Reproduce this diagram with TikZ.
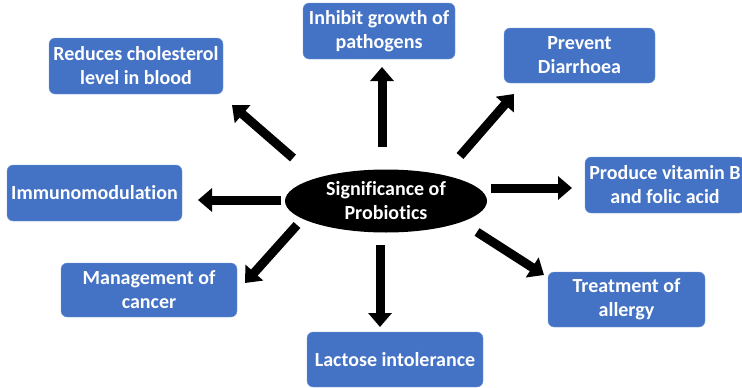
\documentclass[tikz,border=0pt]{standalone}
\usepackage{fontspec}
\setmainfont[Ligatures=NoCommon]{Carlito}
\usepackage{tikz}
\usetikzlibrary{arrows.meta, positioning, shapes.geometric}
\definecolor{boxblue}{RGB}{68, 114, 196}
\definecolor{boxedge}{RGB}{120, 155, 215}

\begin{document}
\begin{tikzpicture}[x=1pt, y=-1pt,
    box/.style={draw=boxedge, fill=boxblue, rounded corners=6pt, text=white, align=center,
                font=\fontsize{20}{24}\selectfont\bfseries, inner sep=0pt},
    hub/.style={ellipse, fill=black, text=white, align=center, inner sep=0pt,
                minimum width=202pt, minimum height=63pt, font=\fontsize{20}{24}\selectfont\bfseries},
    bigarrow/.style={line width=9pt, -{Triangle[width=23pt, length=14pt]}}]
  \useasboundingbox (0,0) rectangle (742,388);

  \node[hub] (sig) at (386,201) {Significance of\\Probiotics};

  \node[box, minimum width=152pt, minimum height=56pt] (inhibit)  at (379,31)    {Inhibit growth of\\pathogens};
  \node[box, minimum width=174pt, minimum height=56pt] (reduces)  at (136,66)    {Reduces cholesterol\\level in blood};
  \node[box, minimum width=151pt, minimum height=55pt] (prevent)  at (579.5,55.5) {Prevent\\Diarrhoea};
  \node[box, minimum width=175pt, minimum height=56pt] (immuno)   at (94.5,193)  {Immunomodulation};
  \node[box, minimum width=160pt, minimum height=56pt] (produce)  at (665,185)   {Produce vitamin B\\and folic acid};
  \node[box, minimum width=176pt, minimum height=54pt] (cancer)   at (149,290)   {Management of\\cancer};
  \node[box, minimum width=157pt, minimum height=55pt] (allergy)  at (626.5,299.5) {Treatment of\\allergy};
  \node[box, minimum width=176pt, minimum height=55pt] (lactose)  at (395,359.5) {Lactose intolerance};

  % arrow ends: tail near the hub, tip near the box
  \foreach \n/\x/\y/\u/\v in {up/382/147/382/67, ul/293/158/232/105, ur/460/156/514/94,
                              lf/281/200/198/200, rt/491/188/572/188, ll/297/225/245/283,
                              lr/477/232/544/275, dn/380/245/380/327} {
    \coordinate (\n-tail) at (\x,\y);
    \coordinate (\n-tip) at (\u,\v);
    \draw[bigarrow] (\n-tail) -- (\n-tip);
  }
\end{tikzpicture}
\end{document}
